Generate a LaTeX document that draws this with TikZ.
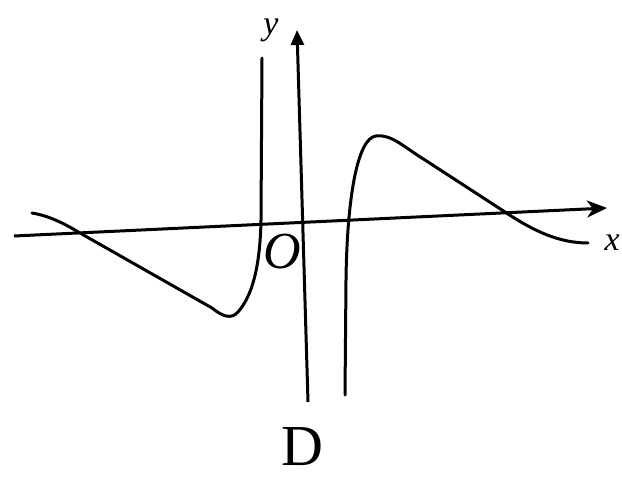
\documentclass[tikz,border=0pt]{standalone}
\usepackage{fontspec}
\setmainfont{Liberation Serif}
\usetikzlibrary{arrows.meta}
\begin{document}
\begin{tikzpicture}[x=1pt,y=-1pt,
  curve/.style={line width=3pt,line cap=round,line join=round},
  axisline/.style={line width=3pt},
  lbl/.style={inner sep=0pt}]
\useasboundingbox (0,0) rectangle (622,479);
\fill[white] (0,0) rectangle (622,479);
% axes
\coordinate (xl) at (14,236);
\coordinate (xr) at (607,208);
\coordinate (yb) at (308,402);
\coordinate (yt) at (297,30);
\draw[axisline,-{Stealth[length=20pt,width=17pt,inset=6pt]}] (xl) -- (xr);
\draw[axisline,-{Triangle[length=15pt,width=13pt]}] (yb) -- (yt);
% left branch
\draw[curve] (32,213) .. controls (50,216) and (65,224) .. (80,233)
  -- (212,308) .. controls (222,316) and (231,320) .. (238,312)
  .. controls (252,296) and (260,268) .. (261,220) -- (262,58);
% right branch
\draw[curve] (345,395) -- (346,280) .. controls (347,200) and (357,138) .. (376,136)
  .. controls (392,134) and (405,148) .. (425,160)
  -- (505,212) .. controls (535,232) and (560,243) .. (588,243);
% labels
\node[lbl,font=\fontsize{34}{36}\selectfont\itshape] (ylab) at (271,30) {y};
\node[lbl,font=\fontsize{34}{36}\selectfont\itshape,anchor=east] (xlab) at (620,243) {x};
\node[lbl,font=\fontsize{52}{54}\selectfont\itshape] (olab) at (282,252) {O};
\node[lbl,font=\fontsize{58}{60}\selectfont] (dlab) at (302,447) {D};
\end{tikzpicture}
\end{document}
